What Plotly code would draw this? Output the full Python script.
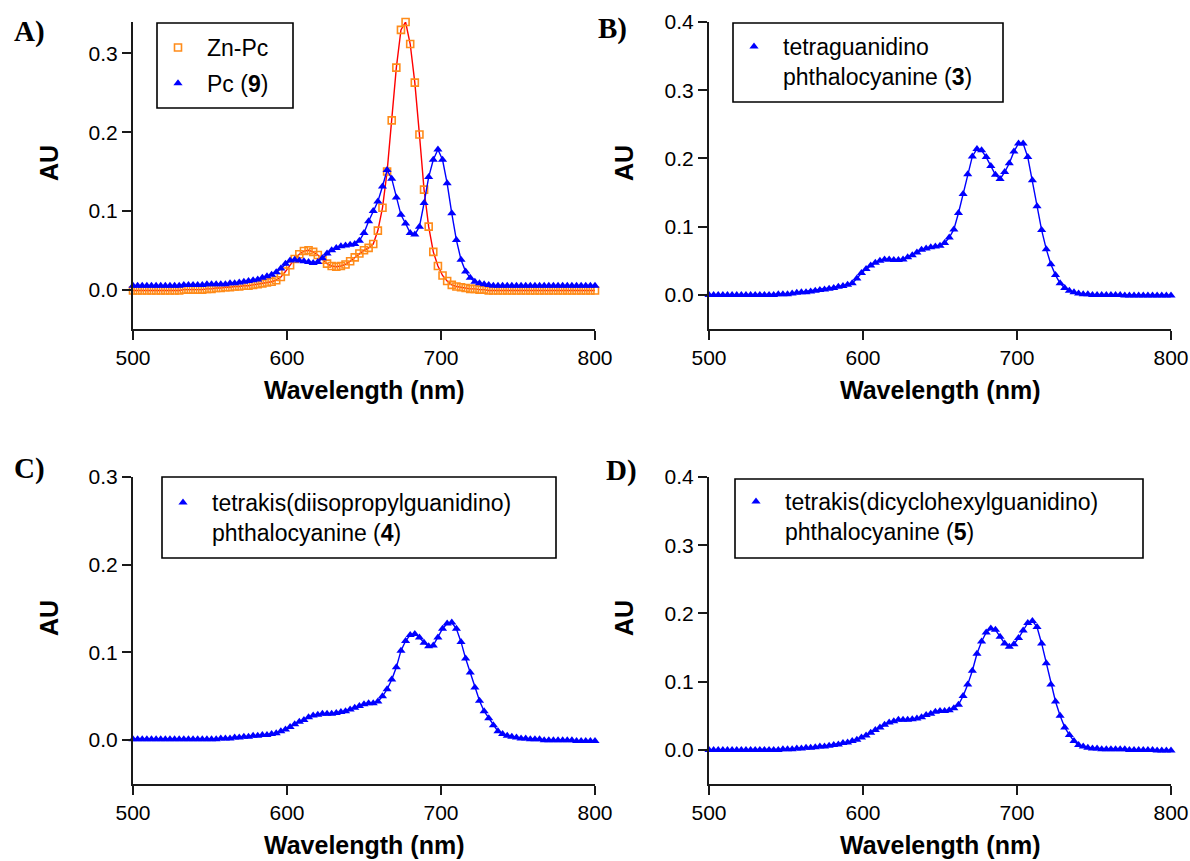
import plotly.graph_objects as go

W, H = 1190, 861

wavelength = [
    500, 503, 506, 509, 512, 515, 518, 521, 524, 527,
    530, 533, 536, 539, 542, 545, 548, 551, 554, 557,
    560, 563, 566, 569, 572, 575, 578, 581, 584, 587,
    590, 593, 596, 599, 602, 605, 608, 611, 614, 617,
    620, 623, 626, 629, 632, 635, 638, 641, 644, 647,
    650, 653, 656, 659, 662, 665, 668, 671, 674, 677,
    680, 683, 686, 689, 692, 695, 698, 701, 704, 707,
    710, 713, 716, 719, 722, 725, 728, 731, 734, 737,
    740, 743, 746, 749, 752, 755, 758, 761, 764, 767,
    770, 773, 776, 779, 782, 785, 788, 791, 794, 797,
    800]

zn_pc = [
    -0.001, -0.001, -0.001, -0.001, -0.001, -0.001, -0.001, -0.001, -0.001, -0.001,
    -0.001, 0.000, 0.000, 0.000, 0.000, 0.000, 0.001, 0.001, 0.002, 0.002,
    0.003, 0.003, 0.004, 0.004, 0.005, 0.005, 0.006, 0.007, 0.008, 0.009,
    0.010, 0.012, 0.016, 0.023, 0.031, 0.039, 0.045, 0.049, 0.050, 0.048,
    0.044, 0.038, 0.033, 0.030, 0.029, 0.030, 0.032, 0.036, 0.041, 0.046,
    0.050, 0.053, 0.058, 0.075, 0.104, 0.150, 0.215, 0.282, 0.330, 0.340,
    0.312, 0.263, 0.197, 0.127, 0.080, 0.048, 0.030, 0.018, 0.011, 0.006,
    0.004, 0.003, 0.002, 0.001, 0.001, 0.000, 0.000, -0.001, -0.001, -0.001,
    -0.001, -0.001, -0.001, -0.001, -0.001, -0.001, -0.001, -0.001, -0.001, -0.001,
    -0.001, -0.001, -0.001, -0.001, -0.001, -0.001, -0.001, -0.001, -0.001, -0.001,
    -0.001]

pc9 = [
    0.005, 0.005, 0.005, 0.005, 0.005, 0.005, 0.005, 0.005, 0.005, 0.005,
    0.005, 0.006, 0.006, 0.006, 0.006, 0.006, 0.007, 0.007, 0.007, 0.007,
    0.007, 0.008, 0.008, 0.009, 0.010, 0.011, 0.012, 0.013, 0.015, 0.017,
    0.019, 0.022, 0.027, 0.033, 0.037, 0.038, 0.037, 0.036, 0.035, 0.034,
    0.035, 0.040, 0.046, 0.050, 0.053, 0.055, 0.056, 0.057, 0.058, 0.062,
    0.072, 0.087, 0.100, 0.112, 0.131, 0.152, 0.141, 0.117, 0.095, 0.084,
    0.072, 0.070, 0.080, 0.110, 0.143, 0.165, 0.178, 0.165, 0.135, 0.097,
    0.063, 0.038, 0.023, 0.015, 0.010, 0.008, 0.007, 0.006, 0.005, 0.005,
    0.005, 0.005, 0.005, 0.005, 0.005, 0.005, 0.005, 0.005, 0.005, 0.005,
    0.005, 0.005, 0.005, 0.005, 0.005, 0.005, 0.005, 0.005, 0.005, 0.005,
    0.005]

pc3 = [
    0.000, 0.000, 0.000, 0.000, 0.000, 0.000, 0.000, 0.000, 0.000, 0.000,
    0.000, 0.000, 0.000, 0.000, 0.000, 0.001, 0.001, 0.001, 0.002, 0.003,
    0.004, 0.004, 0.005, 0.006, 0.007, 0.008, 0.009, 0.010, 0.012, 0.013,
    0.015, 0.017, 0.024, 0.032, 0.038, 0.043, 0.047, 0.050, 0.052, 0.052,
    0.051, 0.051, 0.052, 0.055, 0.058, 0.062, 0.066, 0.068, 0.070, 0.071,
    0.072, 0.076, 0.084, 0.096, 0.120, 0.148, 0.177, 0.203, 0.214, 0.212,
    0.202, 0.189, 0.176, 0.170, 0.180, 0.193, 0.210, 0.222, 0.222, 0.202,
    0.168, 0.130, 0.095, 0.067, 0.045, 0.029, 0.017, 0.010, 0.006, 0.004,
    0.002, 0.001, 0.001, 0.000, 0.000, 0.000, 0.000, 0.000, 0.000, 0.000,
    -0.001, -0.001, -0.001, -0.001, -0.001, -0.001, -0.001, -0.001, -0.001, -0.001,
    -0.001]

pc4 = [
    0.001, 0.001, 0.001, 0.001, 0.001, 0.001, 0.001, 0.001, 0.001, 0.001,
    0.001, 0.001, 0.001, 0.001, 0.001, 0.001, 0.001, 0.001, 0.001, 0.002,
    0.002, 0.002, 0.003, 0.003, 0.004, 0.004, 0.005, 0.005, 0.006, 0.006,
    0.007, 0.008, 0.010, 0.012, 0.015, 0.018, 0.021, 0.023, 0.026, 0.028,
    0.029, 0.030, 0.030, 0.030, 0.031, 0.032, 0.033, 0.035, 0.037, 0.039,
    0.041, 0.042, 0.042, 0.044, 0.050, 0.058, 0.069, 0.083, 0.102, 0.113,
    0.120, 0.121, 0.117, 0.111, 0.107, 0.108, 0.117, 0.127, 0.133, 0.134,
    0.127, 0.112, 0.093, 0.077, 0.060, 0.045, 0.033, 0.025, 0.017, 0.010,
    0.007, 0.005, 0.004, 0.003, 0.002, 0.002, 0.001, 0.001, 0.001, 0.000,
    0.000, 0.000, 0.000, 0.000, 0.000, 0.000, -0.001, -0.001, -0.001, -0.001,
    -0.001]

pc5 = [
    0.000, 0.000, 0.000, 0.000, 0.000, 0.000, 0.000, 0.000, 0.000, 0.000,
    0.000, 0.000, 0.000, 0.000, 0.000, 0.000, 0.001, 0.001, 0.001, 0.002,
    0.002, 0.003, 0.003, 0.004, 0.005, 0.005, 0.006, 0.007, 0.008, 0.010,
    0.011, 0.013, 0.015, 0.018, 0.021, 0.025, 0.029, 0.033, 0.037, 0.040,
    0.042, 0.044, 0.044, 0.044, 0.045, 0.046, 0.048, 0.051, 0.053, 0.056,
    0.057, 0.057, 0.058, 0.061, 0.066, 0.079, 0.096, 0.116, 0.141, 0.159,
    0.172, 0.178, 0.176, 0.166, 0.156, 0.151, 0.155, 0.164, 0.175, 0.186,
    0.189, 0.180, 0.156, 0.127, 0.096, 0.071, 0.050, 0.033, 0.022, 0.013,
    0.007, 0.005, 0.003, 0.002, 0.002, 0.001, 0.001, 0.001, 0.001, 0.001,
    0.001, 0.000, 0.000, 0.000, 0.000, 0.000, 0.000, -0.001, -0.001, -0.001,
    -0.001]

x_ticks = [500, 600, 700, 800]
yticks_A = [0.0, 0.1, 0.2, 0.3]
yticks_B = [0.0, 0.1, 0.2, 0.3, 0.4]
yticks_C = [0.0, 0.1, 0.2, 0.3]
yticks_D = [0.0, 0.1, 0.2, 0.3, 0.4]

name_zn = "Zn-Pc"
name_9 = "Pc (<b>9</b>)"
name_3 = "tetraguanidino<br>phthalocyanine (<b>3</b>)"
name_4 = "tetrakis(diisopropylguanidino)<br>phthalocyanine (<b>4</b>)"
name_5 = "tetrakis(dicyclohexylguanidino)<br>phthalocyanine (<b>5</b>)"

BLUE = "#0000FF"
ORANGE = "#FF8C1A"
RED = "#FF0000"
AXC = "#1a1a1a"
SANS = "Arial, Liberation Sans, sans-serif"
SERIF = "Times New Roman, Liberation Serif, serif"

fig = go.Figure()


def add_pair(y, xa, ya, name, legend, group, line_color, mcolor, symbol, msize, mline):
    fig.add_trace(go.Scatter(x=wavelength, y=y, xaxis=xa, yaxis=ya, mode="lines",
                             line=dict(color=line_color, width=1.4), showlegend=False,
                             hoverinfo="skip", cliponaxis=False))
    fig.add_trace(go.Scatter(x=wavelength, y=y, xaxis=xa, yaxis=ya, mode="markers",
                             name=name, legend=legend, legendgroup=group,
                             marker=dict(symbol=symbol, size=msize, color=mcolor,
                                         line=mline), cliponaxis=False))


add_pair(zn_pc, "x", "y", name_zn, "legend", "g1", RED, ORANGE, "square-open", 7,
         dict(color=ORANGE, width=1.6))
add_pair(pc9, "x", "y", name_9, "legend", "g2", BLUE, BLUE, "triangle-up", 8, dict(width=0))
add_pair(pc3, "x2", "y2", name_3, "legend2", "g3", BLUE, BLUE, "triangle-up", 8, dict(width=0))
add_pair(pc4, "x3", "y3", name_4, "legend3", "g4", BLUE, BLUE, "triangle-up", 8, dict(width=0))
add_pair(pc5, "x4", "y4", name_5, "legend4", "g5", BLUE, BLUE, "triangle-up", 8, dict(width=0))

xl = [133 / W, 595 / W]
xr = [709 / W, 1171 / W]
yt = [1 - 329 / H, 1 - 22 / H]
yb = [1 - 784 / H, 1 - 477 / H]

common_ax = dict(showline=True, linecolor=AXC, linewidth=2, ticks="outside", ticklen=9,
                 tickwidth=2, tickcolor=AXC, showgrid=False, zeroline=False,
                 tickfont=dict(family=SANS, size=21, color="black"), automargin=False)


def xax(domain, anchor):
    return dict(common_ax, domain=domain, anchor=anchor, range=[500, 800],
                tickvals=x_ticks)


def yax(domain, anchor, rng, tv):
    return dict(common_ax, domain=domain, anchor=anchor, range=rng, tickvals=tv,
                tickformat=".1f")


def legend_cfg(box_left, top):
    return dict(x=(box_left - 8) / W, y=1 - top / H, xanchor="left", yanchor="top",
                bgcolor="rgba(0,0,0,0)", borderwidth=0, itemwidth=48, valign="top",
                tracegroupgap=3, font=dict(family=SANS, size=23, color="black"),
                itemclick=False, itemdoubleclick=False)


boxes = [(157, 293, 23, 108), (733, 1003, 23, 102), (162, 556, 477, 558), (735, 1143, 479, 558)]
shapes = [dict(type="rect", xref="paper", yref="paper", x0=b[0] / W, x1=b[1] / W,
               y0=1 - b[3] / H, y1=1 - b[2] / H, line=dict(color="black", width=1.6))
          for b in boxes]


def ann(text, x, y, size, family, angle=0):
    return dict(text=text, x=x / W, y=1 - y / H, xref="paper", yref="paper",
                showarrow=False, xanchor="center", yanchor="middle", textangle=angle,
                font=dict(family=family, size=size, color="black"))


annotations = [
    ann("<b>Wavelength (nm)</b>", 364, 390, 25, SANS),
    ann("<b>Wavelength (nm)</b>", 940, 390, 25, SANS),
    ann("<b>Wavelength (nm)</b>", 364, 845, 25, SANS),
    ann("<b>Wavelength (nm)</b>", 940, 845, 25, SANS),
    ann("<b>AU</b>", 49, 163, 25, SANS, -90),
    ann("<b>AU</b>", 624, 163, 25, SANS, -90),
    ann("<b>AU</b>", 49, 618, 25, SANS, -90),
    ann("<b>AU</b>", 624, 618, 25, SANS, -90),
    ann("<b>A)</b>", 29, 31, 29, SERIF),
    ann("<b>B)</b>", 613, 29, 29, SERIF),
    ann("<b>C)</b>", 29, 469, 29, SERIF),
    ann("<b>D)</b>", 621, 471, 29, SERIF),
]

fig.update_layout(
    width=W, height=H, margin=dict(l=0, r=0, t=0, b=0),
    paper_bgcolor="white", plot_bgcolor="white",
    xaxis=xax(xl, "y"), yaxis=yax(yt, "x", [-0.05, 0.34], yticks_A),
    xaxis2=xax(xr, "y2"), yaxis2=yax(yt, "x2", [-0.05, 0.4], yticks_B),
    xaxis3=xax(xl, "y3"), yaxis3=yax(yb, "x3", [-0.05, 0.3], yticks_C),
    xaxis4=xax(xr, "y4"), yaxis4=yax(yb, "x4", [-0.05, 0.4], yticks_D),
    legend=legend_cfg(157, 26),
    legend2=legend_cfg(733, 25),
    legend3=legend_cfg(162, 481),
    legend4=legend_cfg(735, 480),
    shapes=shapes, annotations=annotations,
    showlegend=True,
)

fig.write_html("out.html", config={"displayModeBar": False},
               post_script="document.body.style.margin='0px';document.body.style.overflow='hidden';")
